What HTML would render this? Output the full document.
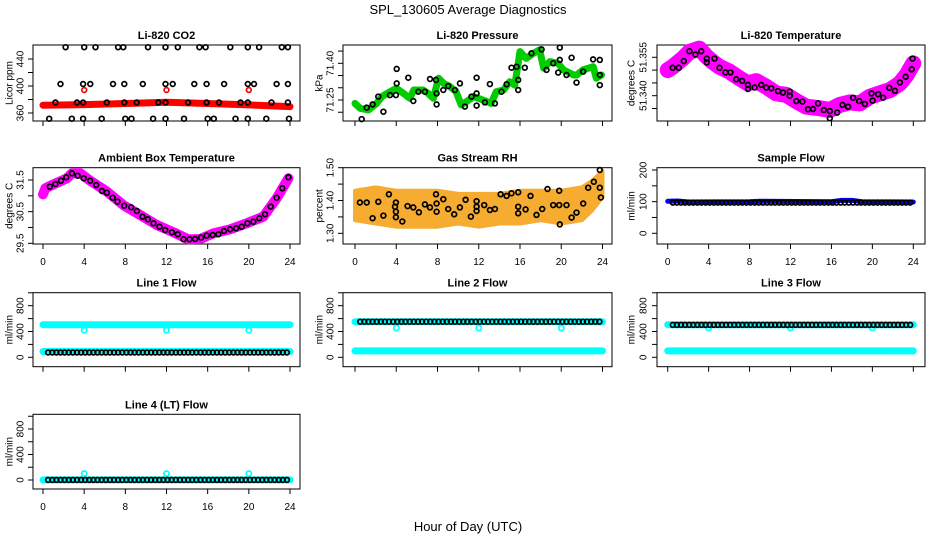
<!DOCTYPE html>
<html><head><meta charset="utf-8"><style>
html,body{margin:0;padding:0;background:#fff;}
svg{display:block;font-family:"Liberation Sans",sans-serif;}
</style></head><body>
<svg id="chart" width="936" height="540" viewBox="0 0 936 540" xmlns="http://www.w3.org/2000/svg">
<rect x="0" y="0" width="936" height="540" fill="#fff"/>
<text x="468" y="14" text-anchor="middle" font-size="13">SPL_130605  Average Diagnostics</text>
<text x="468" y="531" text-anchor="middle" font-size="13">Hour of Day (UTC)</text>
</svg>
<script>
// ---------- data ----------
const co2TopHours=[2.2,4.0,5.1,7.3,7.8,10.2,11.9,13.1,15.2,15.8,18.2,19.9,21.0,23.2,23.8];
const co2MidHours=[1.7,3.9,4.6,6.8,7.9,9.7,11.9,12.6,14.7,15.9,17.6,19.9,20.5,22.7,23.8];
const co2LowHours=[1.2,3.3,3.9,6.2,7.9,9.1,11.2,11.9,14.1,15.9,17.1,19.2,19.9,22.2,23.8];
const co2BotHours=[0.6,2.8,3.9,5.7,8.0,8.6,10.7,11.9,13.7,16.0,16.6,18.7,19.9,21.7,23.9];
const co2Levels=[457.5,403,375.5,351.5];
const co2RedHours=[0,4,8,12,16,20,24];
const co2RedVals=[371.5,372.5,374,376,374,372,369.5];
const co2RedDipHours=[4,12,20];
const co2RedDipVals=[394,394,394];

const presGreenHours=[0,0.5,1.3,2.1,2.6,3.4,4.0,4.7,5.3,5.7,6.6,7.1,7.6,8.1,8.6,9.2,9.8,10.3,10.8,11.5,12.4,13.2,13.7,14.4,15.0,15.5,16.0,16.6,17.3,17.9,18.3,18.9,19.7,20.2,21.2,21.5,22.1,23.1,23.4,23.9];
const presGreenVals=[71.236,71.216,71.209,71.236,71.264,71.284,71.298,71.277,71.257,71.291,71.291,71.277,71.257,71.339,71.318,71.305,71.284,71.230,71.243,71.264,71.250,71.236,71.284,71.291,71.325,71.311,71.448,71.420,71.441,71.455,71.380,71.407,71.400,71.373,71.352,71.352,71.373,71.386,71.339,71.352];
const presHours=[0.65,1.13,1.71,2.26,2.75,3.39,4.04,4.04,3.97,5.17,5.65,6.14,6.78,7.27,7.85,7.91,7.91,8.56,9.04,9.69,10.17,10.66,11.30,11.79,11.79,11.79,12.60,13.08,13.57,14.21,14.70,15.18,15.67,15.83,15.83,16.47,17.12,18.09,18.57,19.22,19.70,19.86,19.86,20.51,21.00,21.48,22.13,23.09,23.74,23.74,23.74];
const presVals=[71.172,71.219,71.232,71.264,71.202,71.270,71.318,71.377,71.270,71.341,71.246,71.284,71.284,71.336,71.332,71.277,71.232,71.291,71.307,71.291,71.318,71.223,71.264,71.341,71.227,71.277,71.240,71.315,71.236,71.284,71.314,71.382,71.386,71.332,71.291,71.382,71.441,71.457,71.373,71.400,71.362,71.464,71.414,71.352,71.423,71.321,71.366,71.416,71.414,71.352,71.311];

const tempBandHours=[0,0.49,1.47,2.12,3.10,3.82,4.41,5.06,6.04,7.02,7.84,8.65,9.63,10.61,11.59,12.57,13.55,14.86,15.84,16.82,17.80,18.78,19.76,20.73,21.71,22.69,23.35,24.0];
const tempBandVals=[51.3500,51.3513,51.3545,51.3571,51.3584,51.3552,51.3532,51.3513,51.3494,51.3468,51.3448,51.3457,51.3435,51.3409,51.3403,51.3379,51.3357,51.3351,51.3344,51.3364,51.3374,51.3370,51.3396,51.3409,51.3422,51.3448,51.3481,51.3526];
const tempHours=[0.49,1.08,1.57,2.12,2.71,3.27,3.82,3.82,4.57,5.06,5.65,6.14,6.69,7.28,7.84,7.84,8.49,9.14,9.63,10.12,10.78,11.27,11.92,11.92,12.57,13.16,13.71,14.20,14.69,15.25,15.84,15.84,16.56,17.08,17.63,18.12,18.71,19.27,19.92,20.02,20.57,21.06,21.65,22.20,22.69,23.25,23.84,23.93];
const tempVals=[51.3509,51.3509,51.3535,51.3574,51.3561,51.3574,51.3545,51.3530,51.3545,51.3509,51.3491,51.3491,51.3464,51.3458,51.3442,51.3426,51.3432,51.3442,51.3432,51.3429,51.3418,51.3412,51.3416,51.3400,51.3379,51.3377,51.3347,51.3348,51.3370,51.3344,51.3340,51.3312,51.3334,51.3364,51.3357,51.3392,51.3379,51.3368,51.3409,51.3381,51.3406,51.3392,51.3431,51.3419,51.3452,51.3474,51.3503,51.3545];

const ambBandHours=[0,0.23,1.03,2.33,2.81,3.62,4.59,6.21,7.89,9.44,11.06,12.68,14.13,15.27,16.56,18.18,19.79,21.41,22.70,23.84];
const ambBandVals=[31.047,31.237,31.363,31.553,31.711,31.711,31.479,31.132,30.689,30.395,30.079,29.847,29.626,29.637,29.816,29.942,30.132,30.342,30.921,31.553];
const ambHours=[0.65,1.20,1.75,2.26,2.81,3.36,3.95,4.59,5.17,5.72,6.21,6.76,7.24,7.89,8.57,9.12,9.67,10.19,10.74,11.32,11.87,12.52,13.10,13.65,14.23,14.78,15.36,15.91,16.49,17.04,17.59,18.18,18.76,19.31,19.86,20.44,21.02,21.57,22.12,22.70,23.25,23.84];
const ambVals=[31.289,31.374,31.479,31.584,31.711,31.637,31.553,31.479,31.342,31.153,31.100,30.942,30.816,30.689,30.637,30.521,30.342,30.258,30.132,30.026,29.921,29.847,29.784,29.626,29.626,29.637,29.679,29.742,29.763,29.784,29.889,29.942,29.974,30.026,30.132,30.184,30.289,30.416,30.658,30.942,31.237,31.584];

const rhCloudHours=[0,2,4,6,8,10,12,14,16,18,20,22,23,24];
const rhCloudLow=[1.34,1.33,1.32,1.32,1.32,1.33,1.32,1.33,1.33,1.34,1.33,1.34,1.37,1.41];
const rhCloudHigh=[1.43,1.44,1.43,1.43,1.43,1.42,1.42,1.42,1.43,1.43,1.43,1.44,1.46,1.49];
const rhHours=[0.48,1.13,1.71,2.26,2.75,3.29,3.88,3.97,3.97,3.97,4.59,5.10,5.65,6.20,6.78,7.27,7.85,7.91,7.91,8.56,9.04,9.62,10.17,10.72,11.24,11.79,11.79,11.79,12.53,13.08,13.57,14.12,14.70,15.18,15.83,15.83,15.83,16.54,17.02,17.60,18.15,18.67,19.22,19.80,19.86,19.80,20.51,21.00,21.48,22.13,22.61,23.16,23.74,23.74,23.84];
const rhVals=[1.394,1.394,1.346,1.396,1.354,1.419,1.381,1.366,1.349,1.394,1.336,1.383,1.379,1.364,1.388,1.379,1.419,1.391,1.366,1.404,1.374,1.358,1.379,1.402,1.351,1.398,1.381,1.368,1.386,1.371,1.374,1.419,1.414,1.422,1.425,1.381,1.361,1.373,1.414,1.356,1.374,1.435,1.386,1.430,1.327,1.386,1.386,1.348,1.363,1.391,1.439,1.457,1.493,1.439,1.409];

const flowHours=[0.5,0.9,1.3,1.7,2.1,2.5,2.9,3.3,3.7,4.1,4.5,4.9,5.3,5.7,6.1,6.5,6.9,7.3,7.7,8.1,8.5,8.9,9.3,9.7,10.1,10.5,10.9,11.3,11.7,12.1,12.5,12.9,13.3,13.7,14.1,14.5,14.9,15.3,15.7,16.1,16.5,16.9,17.3,17.7,18.1,18.5,18.9,19.3,19.7,20.1,20.5,20.9,21.3,21.7,22.1,22.5,22.9,23.3,23.7];
const sampleBandHours=[0,1,2,8,9,16,17,18,19,24];
const sampleBandVals=[101,102,99,100,101,100,104,104,100,99];
const sampleBlack=97;
const bandHours=[0,24];
const dipHours=[4,12,20];
const line1High=[505,505], line1Low=[90,90], line1Black=75, line1Dip=420;
const line2High=[550,550], line2Low=[100,100], line2Black=552, line2Dip=455;
const line3High=[505,505], line3Low=[100,100], line3Black=502, line3Dip=455;
const line4Low=[2,2], line4Black=2, line4Dip=100;

// ---------- layout ----------
const svg=document.getElementById('chart');
const NS='http://www.w3.org/2000/svg';
const COLS=[{l:33,r:300,x0:43,x24:290,tl:20,at:9},{l:343,r:612,x0:355,x24:602.5,tl:330,at:319},{l:657,r:925,x0:667.7,x24:913.3,tl:643,at:631}];
const ROWS=[{t:45,b:121},{t:167.7,b:244},{t:292.7,b:366.7},{t:414.3,b:489}];
function P(c,r,title,ytitle,va,ya,vb,yb,ticks,labels,xlabels,name){
  return {l:COLS[c].l,r:COLS[c].r,x0:COLS[c].x0,x24:COLS[c].x24,tl:COLS[c].tl,at:COLS[c].at,t:ROWS[r].t,b:ROWS[r].b,title,ytitle,va,ya,vb,yb,ticks,labels,xlabels,name};
}
const pCO2=P(0,0,'Li-820 CO2','Licor ppm',360,113,440,59,[360,380,400,420,440],[360,400,440],false,'co2-panel');
const pPres=P(1,0,'Li-820 Pressure','kPa',71.25,100,71.40,63.3,[71.20,71.25,71.30,71.35,71.40,71.45],[71.25,71.40],false,'pressure-panel');
const pTemp=P(2,0,'Li-820 Temperature','degrees C',51.340,95.7,51.355,57.3,[51.335,51.340,51.345,51.350,51.355],[51.340,51.355],false,'temperature-panel');
const pAmb=P(0,1,'Ambient Box Temperature','degrees C',29.5,243.3,31.5,180,[29.5,30,30.5,31,31.5],[29.5,30.5,31.5],true,'ambient-panel');
const pRH=P(1,1,'Gas Stream RH','percent',1.30,233.3,1.50,167.7,[1.30,1.35,1.40,1.45,1.50],[1.30,1.40,1.50],true,'rh-panel');
const pSamp=P(2,1,'Sample Flow','ml/min',0,233.3,200,170,[0,50,100,150,200],[0,100,200],true,'sample-flow-panel');
const fT=[0,200,400,600,800,1000], fL=[0,400,800];
const pL1=P(0,2,'Line 1 Flow','ml/min',0,357.3,800,305.7,fT,fL,false,'line1-panel');
const pL2=P(1,2,'Line 2 Flow','ml/min',0,357.3,800,305.7,fT,fL,false,'line2-panel');
const pL3=P(2,2,'Line 3 Flow','ml/min',0,357.3,800,305.7,fT,fL,false,'line3-panel');
const pL4=P(0,3,'Line 4 (LT) Flow','ml/min',0,480,800,429,fT,fL,true,'line4-panel');

function sx(p,h){return p.x0+h*(p.x24-p.x0)/24;}
function sy(p,v){return p.ya+(v-p.va)*(p.yb-p.ya)/(p.vb-p.va);}
function mk(tag,attrs,parent){const e=document.createElementNS(NS,tag);for(const k in attrs)e.setAttribute(k,attrs[k]);(parent||svg).appendChild(e);return e;}
function fmt(v,p){const d=p.vb-p.va;if(d<0.05)return v.toFixed(3);if(d<1)return v.toFixed(2);if(d<10)return v.toFixed(1);return String(Math.round(v));}

function drawPanel(p){
  const g=mk('g',{});
  
  
  p.g=g;
  const t=mk('text',{x:(p.l+p.r)/2,y:p.t-6,'text-anchor':'middle','font-size':11,'font-weight':'bold'},g);
  t.textContent=p.title;
  
  
  const yt=mk('text',{x:p.at,y:(p.t+p.b)/2,'text-anchor':'middle','font-size':10,transform:`rotate(-90 ${p.at} ${(p.t+p.b)/2})`,dy:'0.35em'},g);
  yt.textContent=p.ytitle;
  
  
  for(const v of p.ticks){
    const y=sy(p,v);
    if(y<p.t-0.5||y>p.b+0.5)continue;
    const tk=mk('line',{x1:p.l,x2:p.l-5,y1:y,y2:y,stroke:'#000','stroke-width':1},g);
    
    
  }
  for(const v of p.labels){
    const y=sy(p,v);
    const lb=mk('text',{x:p.tl,y:y,'text-anchor':'middle','font-size':10,dy:'0.35em',transform:`rotate(-90 ${p.tl} ${y})`},g);
    lb.textContent=fmt(v,p);
    
    
  }
  for(let h=0;h<=24;h+=4){
    const x=sx(p,h);
    const tk=mk('line',{x1:x,x2:x,y1:p.b,y2:p.b+5,stroke:'#000','stroke-width':1},g);
    
    
    if(p.xlabels){
      const lb=mk('text',{x:x,y:p.b+21,'text-anchor':'middle','font-size':10},g);
      lb.textContent=String(h);
      
      
    }
  }
  const box=mk('rect',{x:p.l,y:p.t,width:p.r-p.l,height:p.b-p.t,fill:'none',stroke:'#000','stroke-width':1},g);
  
  
}
function band(p,hours,vals,color,w,name){
  const pts=hours.map((h,i)=>sx(p,h).toFixed(1)+','+sy(p,vals[i]).toFixed(1)).join(' ');
  const e=mk('polyline',{points:pts,fill:'none',stroke:color,'stroke-width':w,'stroke-linecap':'round','stroke-linejoin':'round'},p.g);
  
  
}
function cloud(p,hours,lo,hi,color,name){
  const a=hours.map((h,i)=>sx(p,h).toFixed(1)+','+sy(p,hi[i]).toFixed(1));
  const b=hours.map((h,i)=>sx(p,h).toFixed(1)+','+sy(p,lo[i]).toFixed(1)).reverse();
  const e=mk('polygon',{points:a.concat(b).join(' '),fill:color,stroke:color,'stroke-width':4,'stroke-linejoin':'round'},p.g);
  
  
}
function pt(p,h,v,color,name,r){
  const e=mk('circle',{cx:sx(p,h).toFixed(1),cy:sy(p,v).toFixed(1),r:r||2.4,fill:'none',stroke:color,'stroke-width':1.7},p.g);
  
  
}

[pCO2,pPres,pTemp,pAmb,pRH,pSamp,pL1,pL2,pL3,pL4].forEach(drawPanel);

// CO2
band(pCO2,co2RedHours,co2RedVals,'#ff0000',7,'co2-red-band');
co2RedDipHours.forEach((h,i)=>pt(pCO2,h,co2RedDipVals[i],'#ff0000','co2-red-point'));
[co2TopHours,co2MidHours,co2LowHours,co2BotHours].forEach((arr,k)=>arr.forEach(h=>pt(pCO2,h,co2Levels[k],'#000','co2-point')));
// Pressure
band(pPres,presGreenHours,presGreenVals,'#00cc00',7,'pressure-green-band');
presHours.forEach((h,i)=>pt(pPres,h,presVals[i],'#000','pressure-point'));
// Temperature
band(pTemp,tempBandHours,tempBandVals,'#ff00ff',16,'temperature-magenta-band');
tempHours.forEach((h,i)=>pt(pTemp,h,tempVals[i],'#000','temperature-point'));
// Ambient
band(pAmb,ambBandHours,ambBandVals,'#ff00ff',10,'ambient-magenta-band');
ambHours.forEach((h,i)=>pt(pAmb,h,ambVals[i],'#000','ambient-point'));
// RH
cloud(pRH,rhCloudHours,rhCloudLow,rhCloudHigh,'#f6ac30','rh-orange-cloud');
rhHours.forEach((h,i)=>pt(pRH,h,rhVals[i],'#000','rh-point'));
// Sample flow
band(pSamp,sampleBandHours,sampleBandVals,'#0000ff',5,'sample-blue-band');
flowHours.forEach(h=>pt(pSamp,h,sampleBlack,'#000','sample-point'));
// Line flows
function flowPanel(p,hi,lo,black,dip,n){
  if(hi)band(p,bandHours,hi,'#00ffff',7,n+'-cyan-high');
  band(p,bandHours,lo,'#00ffff',7,n+'-cyan-low');
  dipHours.forEach(h=>pt(p,h,dip,'#00ffff',n+'-cyan-dip',2.6));
  flowHours.forEach(h=>pt(p,h,black,'#000',n+'-point'));
}
flowPanel(pL1,line1High,line1Low,line1Black,line1Dip,'line1');
flowPanel(pL2,line2High,line2Low,line2Black,line2Dip,'line2');
flowPanel(pL3,line3High,line3Low,line3Black,line3Dip,'line3');
flowPanel(pL4,null,line4Low,line4Black,line4Dip,'line4');
</script>
</body></html>
